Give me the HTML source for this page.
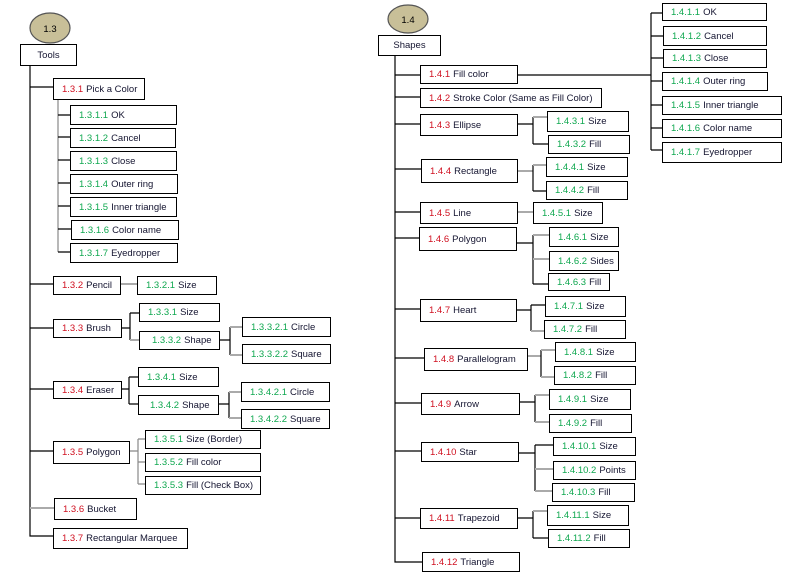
<!DOCTYPE html>
<html><head><meta charset="utf-8"><style>
body{margin:0;width:806px;height:575px;background:#fff;position:relative;overflow:hidden;font-family:"Liberation Sans",sans-serif;}
.b{position:absolute;box-sizing:border-box;border:1px solid #000;background:#fff;font-size:9.5px;color:#141430;display:flex;align-items:center;padding-left:8px;white-space:nowrap;overflow:hidden;}
.r{color:#d01020;margin-right:3px}
.g{color:#10a850;margin-right:3px}
.c{justify-content:center;padding-left:0}
svg{position:absolute;left:0;top:0}
</style></head><body>
<svg width="806" height="575">
<g stroke="#000" stroke-width="1.2" fill="none">
<ellipse cx="50" cy="28" rx="20" ry="15" fill="#c8bf98" stroke="#555"/>
<ellipse cx="408" cy="19" rx="20" ry="14" fill="#c8bf98" stroke="#555"/>
<path d="M30 65V536H53M30 87H53M30 284H53M30 328H53M30 389H53M30 451H53"/>
<path d="M30 508H54" stroke="#aaa" stroke-width="2"/>
<path d="M58 99V252" stroke="#888"/>
<path d="M58 115H70M58 137H70M58 160H70M58 183H70M58 206H70M58 229H71M58 252H70"/>
<path d="M120 284H137" stroke="#aaa" stroke-width="2"/>
<path d="M121 328H130M130 313V340M130 313H139"/>
<path d="M130 340H139" stroke="#aaa" stroke-width="2"/>
<path d="M219 340H230M230 327V355"/>
<path d="M230 327H242M230 355H242" stroke="#aaa" stroke-width="2"/>
<path d="M121 389H129M129 377V404M129 377H138M129 404H138"/>
<path d="M218 404H229M229 392V418"/>
<path d="M229 392H241M229 418H241" stroke="#aaa" stroke-width="2"/>
<path d="M129 451H138M138 439V484M138 439H145M138 462H145M138 484H145" stroke="#888"/>
<path d="M395 55V562H422M395 75H420M395 97H420M395 124H420M395 169H421M395 212H420M395 238H419M395 309H420M395 358H424M395 403H421M395 451H421M395 518H420"/>
<path d="M517 75H651M651 13V150M651 13H662M651 36H663M651 58H663M651 81H662M651 105H662M651 128H662M651 150H662"/>
<path d="M517 124H533M533 117V144M533 144H548"/><path d="M533 117H547" stroke="#aaa" stroke-width="2"/>
<path d="M517 171H533" stroke="#aaa" stroke-width="2"/><path d="M533 165V191M533 191H546"/><path d="M533 165H546" stroke="#aaa" stroke-width="2"/>
<path d="M517 212H533" stroke="#aaa" stroke-width="2"/>
<path d="M516 243H533M533 235V284M533 284H548"/><path d="M533 235H549M533 259H549" stroke="#aaa" stroke-width="2"/>
<path d="M516 310H531M531 305V331M531 305H545"/><path d="M531 331H544" stroke="#aaa" stroke-width="2"/>
<path d="M527 356H541" stroke="#aaa" stroke-width="2"/><path d="M541 350V377"/><path d="M541 350H555M541 377H554" stroke="#aaa" stroke-width="2"/>
<path d="M519 402H535M535 395V422"/><path d="M535 395H549M535 422H549" stroke="#aaa" stroke-width="2"/>
<path d="M518 453H535M535 445V491M535 445H553"/><path d="M535 469H553M535 491H552" stroke="#aaa" stroke-width="2"/>
<path d="M517 518H533M533 511V538M533 538H548"/><path d="M533 511H547" stroke="#aaa" stroke-width="2"/>
</g>
<text x="50" y="32" font-size="9.5" text-anchor="middle" font-family="Liberation Sans" fill="#000">1.3</text>
<text x="408" y="23" font-size="9.5" text-anchor="middle" font-family="Liberation Sans" fill="#000">1.4</text>
</svg>
<div class="b c" style="left:20px;top:44px;width:57px;height:22px">Tools</div>
<div class="b" style="left:53px;top:78px;width:92px;height:22px"><span class="r">1.3.1</span>Pick a Color</div>
<div class="b" style="left:70px;top:105px;width:107px;height:20px"><span class="g">1.3.1.1</span>OK</div>
<div class="b" style="left:70px;top:128px;width:106px;height:20px"><span class="g">1.3.1.2</span>Cancel</div>
<div class="b" style="left:70px;top:151px;width:107px;height:20px"><span class="g">1.3.1.3</span>Close</div>
<div class="b" style="left:70px;top:174px;width:108px;height:20px"><span class="g">1.3.1.4</span>Outer ring</div>
<div class="b" style="left:70px;top:197px;width:107px;height:20px"><span class="g">1.3.1.5</span>Inner triangle</div>
<div class="b" style="left:71px;top:220px;width:108px;height:20px"><span class="g">1.3.1.6</span>Color name</div>
<div class="b" style="left:70px;top:243px;width:108px;height:20px"><span class="g">1.3.1.7</span>Eyedropper</div>
<div class="b" style="left:53px;top:276px;width:68px;height:19px"><span class="r">1.3.2</span>Pencil</div>
<div class="b" style="left:137px;top:276px;width:80px;height:19px"><span class="g">1.3.2.1</span>Size</div>
<div class="b" style="left:53px;top:319px;width:69px;height:19px"><span class="r">1.3.3</span>Brush</div>
<div class="b" style="left:139px;top:303px;width:81px;height:19px"><span class="g">1.3.3.1</span>Size</div>
<div class="b" style="left:139px;top:331px;width:81px;height:19px;padding-left:12px"><span class="g">1.3.3.2</span>Shape</div>
<div class="b" style="left:242px;top:317px;width:89px;height:20px"><span class="g">1.3.3.2.1</span>Circle</div>
<div class="b" style="left:242px;top:344px;width:89px;height:20px"><span class="g">1.3.3.2.2</span>Square</div>
<div class="b" style="left:53px;top:381px;width:69px;height:18px"><span class="r">1.3.4</span>Eraser</div>
<div class="b" style="left:138px;top:367px;width:81px;height:20px"><span class="g">1.3.4.1</span>Size</div>
<div class="b" style="left:138px;top:395px;width:81px;height:20px;padding-left:11px"><span class="g">1.3.4.2</span>Shape</div>
<div class="b" style="left:241px;top:382px;width:89px;height:20px"><span class="g">1.3.4.2.1</span>Circle</div>
<div class="b" style="left:241px;top:409px;width:89px;height:20px"><span class="g">1.3.4.2.2</span>Square</div>
<div class="b" style="left:53px;top:441px;width:77px;height:23px"><span class="r">1.3.5</span>Polygon</div>
<div class="b" style="left:145px;top:430px;width:116px;height:19px"><span class="g">1.3.5.1</span>Size (Border)</div>
<div class="b" style="left:145px;top:453px;width:116px;height:19px"><span class="g">1.3.5.2</span>Fill color</div>
<div class="b" style="left:145px;top:476px;width:116px;height:19px"><span class="g">1.3.5.3</span>Fill (Check Box)</div>
<div class="b" style="left:54px;top:498px;width:83px;height:22px"><span class="r">1.3.6</span>Bucket</div>
<div class="b" style="left:53px;top:528px;width:135px;height:21px"><span class="r">1.3.7</span>Rectangular Marquee</div>

<div class="b c" style="left:378px;top:35px;width:63px;height:21px">Shapes</div>
<div class="b" style="left:420px;top:65px;width:98px;height:19px"><span class="r">1.4.1</span>Fill color</div>
<div class="b" style="left:662px;top:3px;width:105px;height:18px"><span class="g">1.4.1.1</span>OK</div>
<div class="b" style="left:663px;top:26px;width:104px;height:20px"><span class="g">1.4.1.2</span>Cancel</div>
<div class="b" style="left:663px;top:49px;width:104px;height:19px"><span class="g">1.4.1.3</span>Close</div>
<div class="b" style="left:662px;top:72px;width:106px;height:19px"><span class="g">1.4.1.4</span>Outer ring</div>
<div class="b" style="left:662px;top:96px;width:120px;height:19px"><span class="g">1.4.1.5</span>Inner triangle</div>
<div class="b" style="left:662px;top:119px;width:120px;height:19px"><span class="g">1.4.1.6</span>Color name</div>
<div class="b" style="left:662px;top:142px;width:120px;height:21px"><span class="g">1.4.1.7</span>Eyedropper</div>
<div class="b" style="left:420px;top:88px;width:182px;height:20px"><span class="r">1.4.2</span>Stroke Color (Same as Fill Color)</div>
<div class="b" style="left:420px;top:114px;width:98px;height:22px"><span class="r">1.4.3</span>Ellipse</div>
<div class="b" style="left:547px;top:111px;width:82px;height:21px"><span class="g">1.4.3.1</span>Size</div>
<div class="b" style="left:548px;top:135px;width:82px;height:19px"><span class="g">1.4.3.2</span>Fill</div>
<div class="b" style="left:421px;top:159px;width:97px;height:24px"><span class="r">1.4.4</span>Rectangle</div>
<div class="b" style="left:546px;top:157px;width:82px;height:20px"><span class="g">1.4.4.1</span>Size</div>
<div class="b" style="left:546px;top:181px;width:82px;height:19px"><span class="g">1.4.4.2</span>Fill</div>
<div class="b" style="left:420px;top:202px;width:98px;height:22px"><span class="r">1.4.5</span>Line</div>
<div class="b" style="left:533px;top:202px;width:70px;height:22px"><span class="g">1.4.5.1</span>Size</div>
<div class="b" style="left:419px;top:227px;width:98px;height:24px"><span class="r">1.4.6</span>Polygon</div>
<div class="b" style="left:549px;top:227px;width:70px;height:20px"><span class="g">1.4.6.1</span>Size</div>
<div class="b" style="left:549px;top:251px;width:70px;height:20px"><span class="g">1.4.6.2</span>Sides</div>
<div class="b" style="left:548px;top:273px;width:62px;height:18px"><span class="g">1.4.6.3</span>Fill</div>
<div class="b" style="left:420px;top:299px;width:97px;height:23px"><span class="r">1.4.7</span>Heart</div>
<div class="b" style="left:545px;top:296px;width:81px;height:21px"><span class="g">1.4.7.1</span>Size</div>
<div class="b" style="left:544px;top:320px;width:82px;height:19px"><span class="g">1.4.7.2</span>Fill</div>
<div class="b" style="left:424px;top:348px;width:104px;height:23px"><span class="r">1.4.8</span>Parallelogram</div>
<div class="b" style="left:555px;top:342px;width:81px;height:20px"><span class="g">1.4.8.1</span>Size</div>
<div class="b" style="left:554px;top:366px;width:82px;height:19px"><span class="g">1.4.8.2</span>Fill</div>
<div class="b" style="left:421px;top:393px;width:99px;height:22px"><span class="r">1.4.9</span>Arrow</div>
<div class="b" style="left:549px;top:389px;width:82px;height:21px"><span class="g">1.4.9.1</span>Size</div>
<div class="b" style="left:549px;top:414px;width:83px;height:19px"><span class="g">1.4.9.2</span>Fill</div>
<div class="b" style="left:421px;top:442px;width:98px;height:20px"><span class="r">1.4.10</span>Star</div>
<div class="b" style="left:553px;top:437px;width:83px;height:19px"><span class="g">1.4.10.1</span>Size</div>
<div class="b" style="left:553px;top:461px;width:83px;height:19px"><span class="g">1.4.10.2</span>Points</div>
<div class="b" style="left:552px;top:483px;width:83px;height:19px"><span class="g">1.4.10.3</span>Fill</div>
<div class="b" style="left:420px;top:508px;width:98px;height:21px"><span class="r">1.4.11</span>Trapezoid</div>
<div class="b" style="left:547px;top:505px;width:82px;height:21px"><span class="g">1.4.11.1</span>Size</div>
<div class="b" style="left:548px;top:529px;width:82px;height:19px"><span class="g">1.4.11.2</span>Fill</div>
<div class="b" style="left:422px;top:552px;width:98px;height:20px"><span class="r">1.4.12</span>Triangle</div>
</body></html>
